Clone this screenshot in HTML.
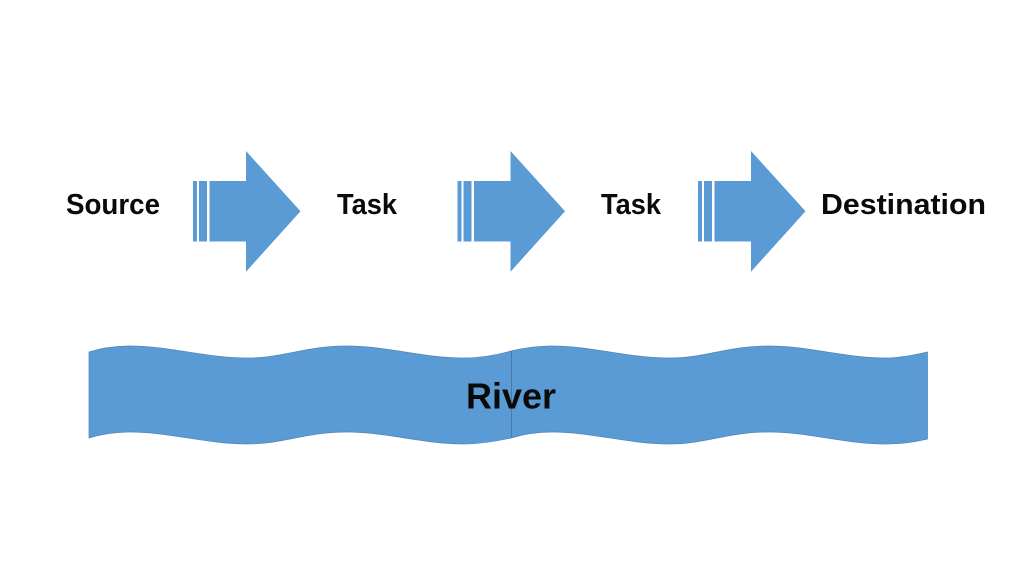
<!DOCTYPE html>
<html>
<head>
<meta charset="utf-8">
<style>
html,body{margin:0;padding:0;background:#fff;width:1024px;height:576px;overflow:hidden}
svg{display:block}
text{font-family:"Liberation Sans",sans-serif;font-weight:bold;fill:#0a0a0a}
</style>
</head>
<body>
<svg width="1024" height="576" viewBox="0 0 1024 576" xmlns="http://www.w3.org/2000/svg">
<rect width="1024" height="576" fill="#fff"/>
<defs>
<g id="a" fill="#5b9bd5">
<rect x="193" y="181" width="4" height="60.500"/>
<rect x="199" y="181" width="8" height="60.500"/>
<polygon points="209.500,181 246,181 246,151 300.500,211.300 246,271.700 246,241.500 209.500,241.500"/>
</g>
</defs>
<use href="#a"/>
<use href="#a" x="264.500"/>
<use href="#a" x="505"/>
<path d="M89 352 C102 348 116 346 130 346 C169 346 207 358 247 358 C285 358 304 346 347 346 C386 346 424 358 463 358 C481 358 497 355 511 351 C524 348 538 346 552 346 C591 346 629 358 669 358 C707 358 726 346 769 346 C808 346 846 358 885 358 C901 358 915 355 927.500 352 L927.500 439 C915 442 901 444 885 444 C846 444 808 432 769 432 C726 432 707 444 669 444 C629 444 591 432 552 432 C538 432 524 434 511 438 C497 441 481 444 463 444 C424 444 386 432 347 432 C304 432 285 444 247 444 C207 444 169 432 130 432 C116 432 102 434 89 438 Z" fill="#5b9bd5" stroke="#4f86b8" stroke-width="0.700"/>
<line x1="511.500" y1="351" x2="511.500" y2="438" stroke="#41719c" stroke-width="0.800"/>
<text x="66" y="214" font-size="29" textLength="94" lengthAdjust="spacingAndGlyphs">Source</text>
<text x="337" y="214" font-size="29" textLength="60" lengthAdjust="spacingAndGlyphs">Task</text>
<text x="601" y="214" font-size="29" textLength="60" lengthAdjust="spacingAndGlyphs">Task</text>
<text x="821" y="214" font-size="29" textLength="165" lengthAdjust="spacingAndGlyphs">Destination</text>
<text x="466" y="408.500" font-size="36" textLength="90" lengthAdjust="spacingAndGlyphs">River</text>
</svg>
</body>
</html>
